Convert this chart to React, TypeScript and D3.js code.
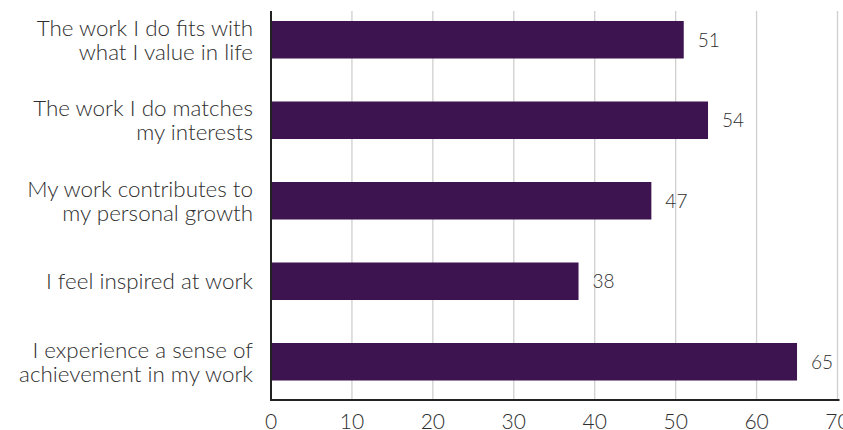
import React from "react";
import * as d3 from "d3";

const categories: string[][] = [
  ["The work I do fits with", "what I value in life"],
  ["The work I do matches", "my interests"],
  ["My work contributes to", "my personal growth"],
  ["I feel inspired at work"],
  ["I experience a sense of", "achievement in my work"],
];
const values: number[] = [51, 54, 47, 38, 65];
const ticks: number[] = [0, 10, 20, 30, 40, 50, 60, 70];

const W = 843;
const H = 430;
const FONT = "Lato, 'Open Sans', sans-serif";

export default function App() {
  const x = d3.scaleLinear().domain([0, 70]).range([271, 837.5]);
  const y = d3
    .scaleBand<number>()
    .domain(values.map((_, i) => i))
    .range([-0.5, 402])
    .paddingInner(0.534)
    .paddingOuter(0.267);
  const axisY = 400;
  const gridTop = 11;
  return (
    <svg
      width={W}
      height={H}
      style={{ position: "absolute", left: 0, top: 0, background: "#fff" }}
    >
      {ticks.slice(1).map((t) => (
        <line
          key={t}
          x1={x(t)}
          x2={x(t)}
          y1={gridTop}
          y2={axisY}
          stroke="#cfcfcf"
          strokeWidth={1.3}
        />
      ))}
      {values.map((v, i) => (
        <rect
          key={i}
          x={x(0)}
          y={y(i)!}
          width={x(v) - x(0)}
          height={y.bandwidth()}
          fill="#3e1450"
        />
      ))}
      {values.map((v, i) => (
        <text
          key={"v" + i}
          x={x(v) + 14}
          y={y(i)! + y.bandwidth() / 2}
          dy="0.36em"
          fontFamily={FONT}
          fontSize={19}
          fontWeight={300}
          fill="#2e2e2e"
        >
          {v}
        </text>
      ))}
      {categories.map((lines, i) => {
        const cy = y(i)! + y.bandwidth() / 2;
        const lh = 24;
        const start = cy - ((lines.length - 1) * lh) / 2;
        return (
          <text
            key={"c" + i}
            textAnchor="end"
            fontFamily={FONT}
            fontSize={22.4}
            fontWeight={300}
            fill="#2e2e2e"
          >
            {lines.map((l, j) => (
              <tspan key={j} x={253} y={start + j * lh} dy="0.35em">
                {l}
              </tspan>
            ))}
          </text>
        );
      })}
      <line x1={x(0)} x2={x(0)} y1={gridTop} y2={axisY + 1} stroke="#222" strokeWidth={2} />
      <line x1={x(0) - 1} x2={x(70) + 2} y1={axisY} y2={axisY} stroke="#222" strokeWidth={2} />
      {ticks.map((t) => (
        <text
          key={"t" + t}
          x={x(t)}
          y={429}
          textAnchor="middle"
          fontFamily={FONT}
          fontSize={21}
          fontWeight={300}
          fill="#2e2e2e"
        >
          {t}
        </text>
      ))}
    </svg>
  );
}
